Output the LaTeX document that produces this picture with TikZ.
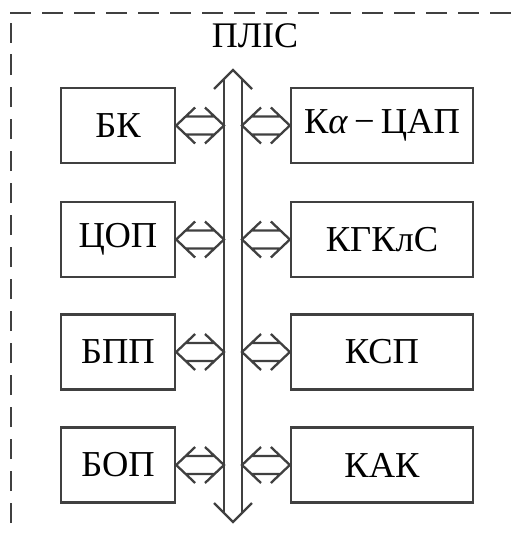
\documentclass[tikz,border=0pt]{standalone}
\usepackage{fontspec}
\setmainfont{Liberation Serif}
\usetikzlibrary{calc}
\definecolor{ln}{HTML}{404040}
\tikzset{
  lw/.style={draw=ln, line width=2.3pt},
  blk/.style={lw, rectangle, inner sep=0pt, minimum height=75pt, text=black,
              font=\fontsize{36.5}{40}\selectfont},
  lblk/.style={blk, minimum width=114pt},
  rblk/.style={blk, minimum width=182pt},
  frame/.style={lw, dash pattern=on 20.5pt off 11.5pt},
}
\newcommand\dblarr[2]{%
  \draw[lw, line join=miter] let \p1=(#1), \p2=(#2) in
    (\x1+19pt,\y1+18pt) -- (\x1,\y1) -- (\x1+19pt,\y1-18pt)
    (\x2-19pt,\y2+18pt) -- (\x2,\y2) -- (\x2-19pt,\y2-18pt)
    (\x1+9.5pt,\y1+9pt) -- (\x2-9.5pt,\y2+9pt)
    (\x1+9.5pt,\y1-9pt) -- (\x2-9.5pt,\y2-9pt);}
\begin{document}
\begin{tikzpicture}[x=1pt,y=-1pt]
\useasboundingbox (0,0) rectangle (517,535);
% frame
\draw[frame] (11,523) -- (11,23);
\draw[frame] (10,13) -- (517,13);
\node[font=\fontsize{36}{40}\selectfont, inner sep=0pt] (plis) at (255,36) {ПЛІС};
% bus
\coordinate (busL) at (224,0);
\coordinate (busR) at (242,0);
\coordinate (busTop) at (233,70);
\coordinate (busBot) at (233,522);
\draw[lw, line join=miter] (214,89) -- (busTop) -- (252,89);
\draw[lw, line join=miter] (214,503) -- (busBot) -- (252,503);
\draw[lw] (224,79) -- (224,513);
\draw[lw] (242,79) -- (242,513);
% blocks
\node[lblk] (bk)   at (118,125.5) {БК};
\node[lblk] (cop)  at (118,239.5) {ЦОП};
\node[lblk] (bpp)  at (118,352)   {БПП};
\node[lblk] (bop)  at (118,465)   {БОП};
\node[rblk] (kdac) at (382,125.5) {К\textit{α}\,−\,ЦАП};
\node[rblk] (kg)   at (382,239.5) {КГКлС};
\node[rblk] (ksp)  at (382,352)   {КСП};
\node[rblk] (kak)  at (382,465)   {КАК};
% connectors
\foreach \bb in {bk,cop,bpp,bop}{\dblarr{\bb.east}{\bb.east -| busL}}
\foreach \bb in {kdac,kg,ksp,kak}{\dblarr{\bb.west -| busR}{\bb.west}}
\end{tikzpicture}
\end{document}
